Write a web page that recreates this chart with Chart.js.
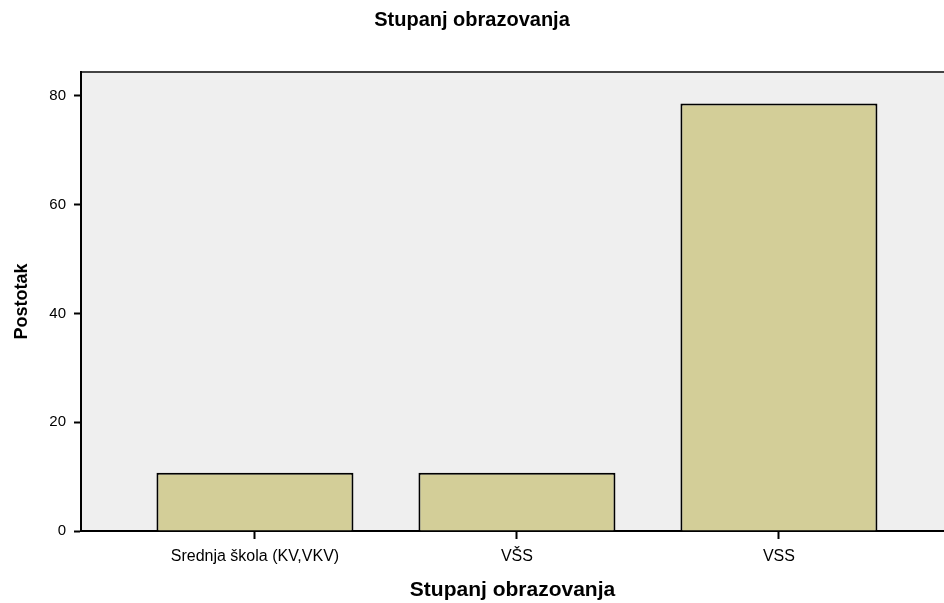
<!DOCTYPE html>
<html>
<head>
<meta charset="utf-8">
<script src="https://cdn.jsdelivr.net/npm/chart.js@4"></script>
<style>
  html, body { margin: 0; padding: 0; background: #fff; }
  #wrap { width: 944px; height: 603px; }
</style>
</head>
<body>
<div id="wrap"><canvas id="StupanjChart"></canvas></div>
<script>
const categories = ['Srednja škola (KV,VKV)', 'VŠS', 'VSS'];
const postotak = [10.7, 10.7, 78.6];
const yTicks = [0, 20, 40, 60, 80];

const ctx = document.getElementById('StupanjChart');

// grey plot background + top frame line
const plotBg = {
  id: 'plotBg',
  beforeDraw(chart) {
    const { ctx, chartArea: a } = chart;
    ctx.save();
    ctx.fillStyle = '#efefef';
    ctx.fillRect(a.left, a.top, a.right - a.left, a.bottom - a.top);
    ctx.strokeStyle = '#444';
    ctx.lineWidth = 2;
    ctx.beginPath();
    ctx.moveTo(a.left, a.top);
    ctx.lineTo(a.right, a.top);
    ctx.stroke();
    ctx.restore();
  }
};

new Chart(ctx, {
  type: 'bar',
  data: {
    datasets: [{
      label: 'Postotak',
      data: postotak.map((v, i) => ({ x: i, y: v })),
      backgroundColor: '#d3ce98',
      borderColor: '#000',
      borderWidth: 2,
      categoryPercentage: 1,
      barPercentage: 0.752
    }]
  },
  options: {
    responsive: true,
    maintainAspectRatio: false,
    animation: false,
    layout: { padding: 0 },
    plugins: {
      legend: { display: false },
      tooltip: { enabled: false },
      title: {
        display: true,
        text: 'Stupanj obrazovanja',
        color: '#000',
        font: { family: 'Liberation Sans', size: 20, weight: 'bold' },
        padding: { top: 8, bottom: 40 }
      }
    },
    scales: {
      x: {
        type: 'linear',
        min: -0.664,
        max: 2.63,
        offset: false,
        afterBuildTicks: s => { s.ticks = categories.map((c, i) => ({ value: i })); },
        afterFit: s => { s.height = 72; },
        ticks: {
          callback: v => categories[v],
          color: '#000',
          font: { family: 'Liberation Sans', size: 16 },
          padding: 8,
          maxRotation: 0
        },
        grid: { offset: false, drawOnChartArea: false, drawTicks: true, tickLength: 8, tickColor: '#000', tickWidth: 2 },
        border: { display: true, color: '#000', width: 2 },
        title: {
          display: true,
          text: 'Stupanj obrazovanja',
          color: '#000',
          font: { family: 'Liberation Sans', size: 21, weight: 'bold' },
          padding: { top: 4, bottom: 0 }
        }
      },
      y: {
        min: 0,
        max: 84.4,
        afterBuildTicks: s => { s.ticks = yTicks.map(v => ({ value: v })); },
        afterFit: s => { s.width = 81; },
        ticks: {
          color: '#000',
          font: { family: 'Liberation Sans', size: 15 },
          padding: 8
        },
        grid: { drawOnChartArea: false, drawTicks: true, tickLength: 7, tickColor: '#000', tickWidth: 2 },
        border: { display: true, color: '#000', width: 2 },
        title: {
          display: true,
          text: 'Postotak',
          color: '#000',
          font: { family: 'Liberation Sans', size: 18, weight: 'bold' },
          padding: { top: 11, bottom: 0 }
        }
      }
    }
  },
  plugins: [plotBg]
});
</script>
</body>
</html>
